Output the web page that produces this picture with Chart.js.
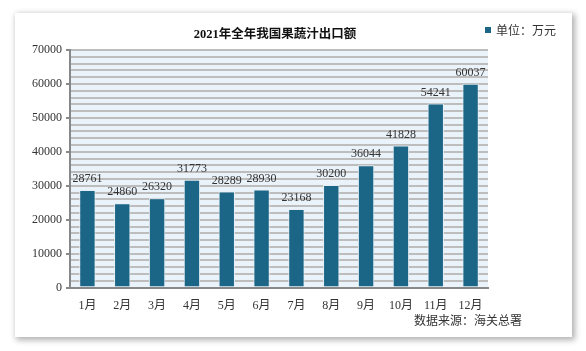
<!DOCTYPE html>
<html>
<head>
<meta charset="utf-8">
<script src="https://cdn.jsdelivr.net/npm/chart.js@4"></script>
<style>
  html, body { margin: 0; padding: 0; background: #fff; }
  body { width: 586px; height: 351px; position: relative; overflow: hidden; }
  #card { position: absolute; left: 15px; top: 13px; width: 557px; height: 324px; background: #fff; box-shadow: 2px 2px 6px 1px #b0b0b0; }
  #wrap { position: absolute; left: 0; top: 0; width: 586px; height: 351px; }
  .note { position: absolute; font-family: "Noto Sans CJK SC", sans-serif; font-size: 12px; color: #333; white-space: nowrap; }
  #legend { left: 485px; top: 21px; }
  #legend span { display: inline-block; width: 6px; height: 6px; background: #1b6586; margin-right: 5px; vertical-align: 2px; }
  #source { left: 414px; top: 311px; }
</style>
</head>
<body>
<div id="card"></div>
<div id="wrap"><canvas id="chart" width="586" height="351"></canvas></div>
<div class="note" id="legend"><span></span>单位：万元</div>
<div class="note" id="source">数据来源：海关总署</div>
<script>
// 数据
const months = ['1月', '2月', '3月', '4月', '5月', '6月', '7月', '8月', '9月', '10月', '11月', '12月'];
const exportValues = [28761, 24860, 26320, 31773, 28289, 28930, 23168, 30200, 36044, 41828, 54241, 60037];
const yTicks = [0, 10000, 20000, 30000, 40000, 50000, 60000, 70000];
const chartTitle = '2021年全年我国果蔬汁出口额';

const serif = '"Liberation Serif", "Noto Sans CJK SC", serif';

// 绘图区背景
const plotBackground = {
    id: 'plotBackground',
    beforeDraw(chart) {
        const a = chart.chartArea;
        const ctx = chart.ctx;
        ctx.save();
        ctx.fillStyle = '#eaf2fa';
        ctx.fillRect(a.left, a.top, a.right - a.left, a.bottom - a.top);
        ctx.restore();
    }
};

// 标题（居中于绘图区上方）
const plotTitle = {
    id: 'plotTitle',
    afterDraw(chart) {
        const a = chart.chartArea;
        const ctx = chart.ctx;
        ctx.save();
        ctx.font = 'bold 12.5px ' + serif;
        ctx.fillStyle = '#111';
        ctx.textAlign = 'center';
        ctx.textBaseline = 'middle';
        ctx.fillText(chartTitle, (a.left + a.right) / 2 - 4, a.top - 15);
        ctx.restore();
    }
};

// 柱顶数值
const valueLabels = {
    id: 'valueLabels',
    afterDatasetsDraw(chart) {
        const ctx = chart.ctx;
        const meta = chart.getDatasetMeta(0);
        ctx.save();
        ctx.font = '12px ' + serif;
        ctx.fillStyle = '#333';
        ctx.textAlign = 'center';
        ctx.textBaseline = 'bottom';
        meta.data.forEach((bar, i) => {
            ctx.fillText(String(exportValues[i]), bar.x, bar.y - 5);
        });
        ctx.restore();
    }
};

new Chart(document.getElementById('chart'), {
    type: 'bar',
    data: {
        labels: months,
        datasets: [{
            label: '单位：万元',
            data: exportValues,
            backgroundColor: '#1b6586',
            borderColor: '#e4eef4',
            borderWidth: 1,
            borderSkipped: 'bottom',
            barPercentage: 0.47,
            categoryPercentage: 1
        }]
    },
    options: {
        responsive: false,
        animation: false,
        layout: { padding: { left: 28, right: 98, top: 50, bottom: 35 } },
        plugins: {
            legend: { display: false },
            tooltip: { enabled: false },
            title: { display: false }
        },
        scales: {
            x: {
                grid: { display: false },
                border: { color: '#888', width: 2 },
                ticks: { color: '#333', font: { family: serif, size: 12 }, padding: 3 }
            },
            y: {
                min: 0,
                max: 70000,
                afterBuildTicks(axis) {
                    const t = [];
                    for (let v = 0; v <= 70000; v += 2000) t.push({ value: v });
                    axis.ticks = t;
                },
                grid: {
                    color: ctx => ctx.tick && ctx.tick.value === 0 ? 'rgba(0,0,0,0)' : '#bdbdbd',
                    lineWidth: 2,
                    tickLength: 4,
                    tickColor: ctx => yTicks.includes(ctx.tick.value) ? '#888' : 'rgba(0,0,0,0)'
                },
                border: { color: '#888', width: 2 },
                ticks: {
                    autoSkip: false,
                    color: '#333',
                    font: { family: serif, size: 12 },
                    padding: 4,
                    callback: v => yTicks.includes(v) ? String(v) : ''
                }
            }
        }
    },
    plugins: [plotBackground, plotTitle, valueLabels]
});
</script>
</body>
</html>
